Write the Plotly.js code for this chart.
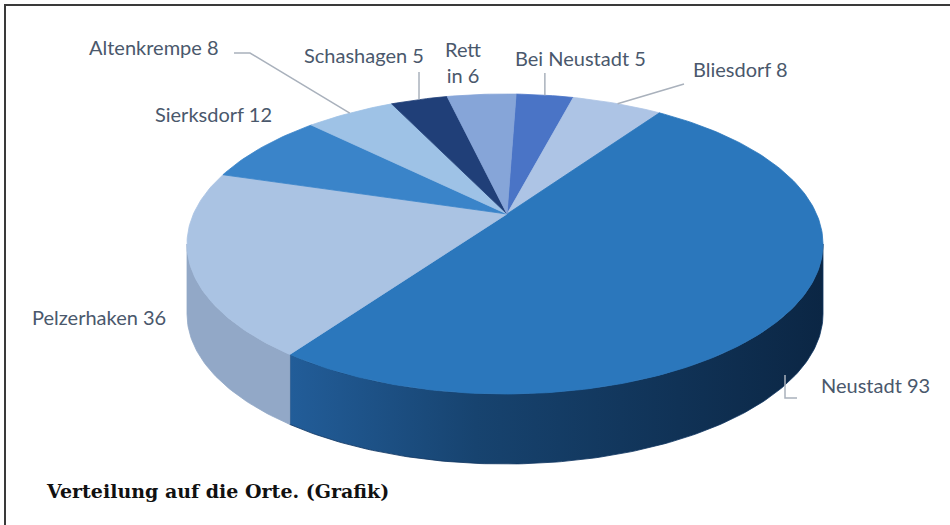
<!DOCTYPE html>
<html>
<head>
<meta charset="utf-8">
<script src="https://cdn.plot.ly/plotly-3.0.1.min.js"></script>
<style>
  html, body { margin: 0; padding: 0; background: #fff; }
  #chart { width: 950px; height: 525px; }
</style>
</head>
<body>
<div id="chart"></div>
<script>
// Orte im Uhrzeigersinn ab 12 Uhr
var orte = ['Bei Neustadt', 'Bliesdorf', 'Neustadt', 'Pelzerhaken', 'Sierksdorf', 'Altenkrempe', 'Schashagen', 'Rettin'];
var anzahl = [5, 8, 93, 36, 12, 8, 5, 6];

var topColors = ['#4a74c6', '#adc4e5', '#2b77bc', '#aac3e3', '#3a84c9', '#9ec2e6', '#203f78', '#86a5d8'];
var sideColors = ['#2f4f8f', '#8ea3c4', '#0f3561', '#92a8c7', '#245b92', '#7f9fc2', '#142a52', '#6a86b6'];

// shape of the tilted pie, in pixels
const CX = 505, CY = 244, RX = 318, RY = 150, DEPTH = 70;
const APEX = [507, 214];
const START = 2; // degrees, clockwise from the top

// where the labels sit (text centre) and how the leader runs
var labelPos = {
	'Bei Neustadt': { x: 580, y: 58, leader: 'up', top: 73 },
	'Bliesdorf': { x: 740, y: 69, leader: [[684, 84]] },
	'Neustadt': { x: 875, y: 385, bracket: [[785, 375], [785, 398], [797, 398]] },
	'Pelzerhaken': { x: 99, y: 317 },
	'Sierksdorf': { x: 213, y: 114 },
	'Altenkrempe': { x: 154, y: 47, leader: [[250, 53], [234, 53]] },
	'Schashagen': { x: 364, y: 55, leader: 'up', top: 72 },
	'Rettin': { x: 463, y: 62, splitAt: 4 },
};

const LABEL_COLOR = '#4a586c';
const LEADER_COLOR = '#a9b1bc';

function rim(t, dy) {
	var r = t * Math.PI / 180;
	return [CX + RX * Math.sin(r), CY - RY * Math.cos(r) + (dy || 0)];
}

function arc(a, b, dy) {
	var pts = [];
	var n = Math.max(2, Math.ceil(Math.abs(b - a)));
	for (let i = 0; i <= n; i++) {
		pts.push(rim(a + (b - a) * i / n, dy));
	}
	return pts;
}

var total = anzahl.reduce((s, v) => s + v, 0);
var slices = [];
var acc = START;
for (let i = 0; i < orte.length; i++) {
	var span = anzahl[i] / total * 360;
	slices.push({ a: acc, b: acc + span, mid: acc + span / 2 });
	acc += span;
}

var traces = [];

// side of the cylinder: only the front half (90..270) is visible
slices.forEach(function(s, i) {
	var a = Math.max(s.a, 90), b = Math.min(s.b, 270);
	if (b <= a) return;
	var pts = arc(a, b, 0).concat(arc(b, a, DEPTH));
	pts.push(pts[0]);
	var tr = {
		x: pts.map(p => p[0]),
		y: pts.map(p => p[1]),
		mode: 'lines',
		fill: 'toself',
		fillcolor: sideColors[i],
		line: { color: sideColors[i], width: 0.8 },
		hoverinfo: 'skip',
		showlegend: false,
	};
	if (orte[i] == 'Neustadt') {
		tr.fillgradient = {
			type: 'horizontal',
			colorscale: [[0, '#225d99'], [0.35, '#17436f'], [1, '#0b2644']],
		};
	}
	traces.push(tr);
});

// top face
slices.forEach(function(s, i) {
	var pts = [APEX].concat(arc(s.a, s.b, 0));
	pts.push(APEX);
	traces.push({
		x: pts.map(p => p[0]),
		y: pts.map(p => p[1]),
		mode: 'lines',
		fill: 'toself',
		fillcolor: topColors[i],
		line: { color: topColors[i], width: 0.8 },
		hoverinfo: 'skip',
		showlegend: false,
	});
});

// leader lines
orte.forEach(function(name, i) {
	var lp = labelPos[name];
	var pts = null;
	if (lp.leader == 'up') {
		var p = rim(slices[i].mid, 0);
		pts = [p, [p[0], lp.top]];
	} else if (Array.isArray(lp.leader)) {
		pts = [rim(slices[i].mid, 0)].concat(lp.leader);
	} else if (lp.bracket) {
		pts = lp.bracket;
	}
	if (!pts) return;
	traces.push({
		x: pts.map(p => p[0]),
		y: pts.map(p => p[1]),
		mode: 'lines',
		line: { color: LEADER_COLOR, width: 1.5 },
		hoverinfo: 'skip',
		showlegend: false,
	});
});

var annotations = orte.map(function(name, i) {
	var lp = labelPos[name];
	var txt = name + ' ' + anzahl[i];
	if (lp.splitAt) txt = txt.slice(0, lp.splitAt) + '<br>' + txt.slice(lp.splitAt);
	return {
		x: lp.x, y: lp.y, xref: 'x', yref: 'y',
		text: txt,
		showarrow: false,
		xanchor: 'center', yanchor: 'middle',
		font: { family: 'Lato, "Open Sans", sans-serif', size: 20, color: LABEL_COLOR },
	};
});

annotations.push({
	x: 44, y: 491, xref: 'x', yref: 'y',
	text: '<b>Verteilung auf die Orte. (Grafik)</b>',
	showarrow: false,
	xanchor: 'left', yanchor: 'middle',
	font: { family: '"DejaVu Serif", serif', size: 19, color: '#111' },
});

const layout = {
	width: 950,
	height: 525,
	margin: { l: 0, r: 0, t: 0, b: 0 },
	paper_bgcolor: '#fff',
	plot_bgcolor: '#fff',
	xaxis: { range: [0, 950], visible: false, fixedrange: true },
	yaxis: { range: [525, 0], visible: false, fixedrange: true },
	annotations: annotations,
	shapes: [
		{ type: 'line', x0: 4, x1: 950, y0: 5, y1: 5, line: { color: '#3a3a3a', width: 2 } },
		{ type: 'line', x0: 5, x1: 5, y0: 5, y1: 525, line: { color: '#3a3a3a', width: 2 } },
	],
	showlegend: false,
};

Plotly.newPlot('chart', traces, layout, { staticPlot: true });
</script>
</body>
</html>
